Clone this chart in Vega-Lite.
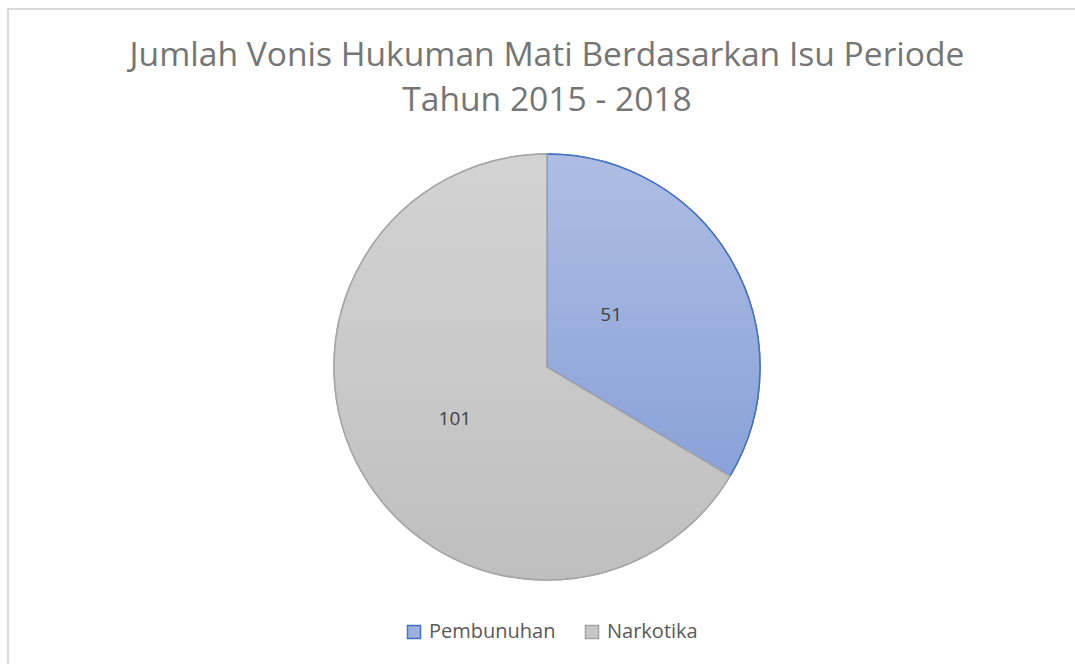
{
  "$schema": "https://vega.github.io/schema/vega-lite/v6.json",
  "width": 1078,
  "height": 716,
  "padding": {"left": 8, "top": 9, "right": 0, "bottom": 0},
  "background": "white",
  "view": {"stroke": "#d9d9d9", "strokeWidth": 2, "fill": "white"},
  "config": {
    "view": {"stroke": "#d9d9d9", "strokeWidth": 2, "fill": "white"},
    "font": "Open Sans"
  },
  "title": {
    "text": ["Jumlah Vonis Hukuman Mati Berdasarkan Isu Periode", "Tahun 2015 - 2018"],
    "orient": "top",
    "anchor": "middle",
    "frame": "group",
    "baseline": "alphabetic",
    "offset": -136,
    "font": "Open Sans",
    "fontSize": 33.6,
    "fontWeight": "normal",
    "color": "#757575",
    "lineHeight": 45
  },
  "data": {
    "values": [
      {"isu": "Pembunuhan", "jumlah": 51, "urutan": 1},
      {"isu": "Narkotika", "jumlah": 101, "urutan": 2}
    ]
  },
  "transform": [
    {"stack": "jumlah", "groupby": [], "sort": [{"field": "urutan", "order": "ascending"}], "as": ["t0", "t1"]}
  ],
  "layer": [
    {
      "mark": {"type": "arc", "outerRadius": 213, "strokeWidth": 1.5},
      "encoding": {
        "theta": {"field": "t0", "type": "quantitative", "scale": {"domain": [0, 152]}},
        "theta2": {"field": "t1"},
        "fill": {
          "field": "isu",
          "type": "nominal",
          "sort": ["Pembunuhan", "Narkotika"],
          "scale": {"domain": ["Pembunuhan", "Narkotika"], "range": ["#9eb0de", "#c8c8c8"]},
          "legend": {
            "title": null,
            "orient": "none",
            "legendX": 396,
            "legendY": 613,
            "direction": "horizontal",
            "symbolType": "square",
            "symbolSize": 169,
            "labelFontSize": 20,
            "labelFont": "Open Sans",
            "labelColor": "#595959",
            "labelOffset": 5,
            "columnPadding": 26,
            "symbolStrokeWidth": 1.5
          }
        },
        "stroke": {
          "field": "isu",
          "type": "nominal",
          "sort": ["Pembunuhan", "Narkotika"],
          "scale": {"domain": ["Pembunuhan", "Narkotika"], "range": ["#4472c4", "#a5a5a5"]}
        }
      }
    },
    {
      "transform": [{"filter": "datum.isu === 'Pembunuhan'"}],
      "mark": {
        "type": "arc", "outerRadius": 213, "strokeWidth": 1.5, "stroke": "#4472c4",
        "fill": {"gradient": "linear", "x1": 0, "y1": 0, "x2": 0, "y2": 1, "stops": [{"offset": 0, "color": "#aebde3"}, {"offset": 1, "color": "#8aa2d9"}]}
      },
      "encoding": {
        "theta": {"field": "t0", "type": "quantitative"},
        "theta2": {"field": "t1"}
      }
    },
    {
      "transform": [{"filter": "datum.isu === 'Narkotika'"}],
      "mark": {
        "type": "arc", "outerRadius": 213, "strokeWidth": 1.5, "stroke": "#a5a5a5",
        "fill": {"gradient": "linear", "x1": 0, "y1": 0, "x2": 0, "y2": 1, "stops": [{"offset": 0, "color": "#d3d3d3"}, {"offset": 1, "color": "#bfbfbf"}]}
      },
      "encoding": {
        "theta": {"field": "t0", "type": "quantitative"},
        "theta2": {"field": "t1"}
      }
    },
    {
      "mark": {
        "type": "text", "radius": 106, "fontSize": 19, "font": "Open Sans", "color": "#404040",
        "dx": {"expr": "datum.isu === 'Pembunuhan' ? -28 : 0"}
      },
      "encoding": {
        "theta": {"field": "jumlah", "type": "quantitative", "stack": true},
        "order": {"field": "urutan", "type": "quantitative"},
        "text": {"field": "jumlah", "type": "quantitative"}
      }
    }
  ]
}
